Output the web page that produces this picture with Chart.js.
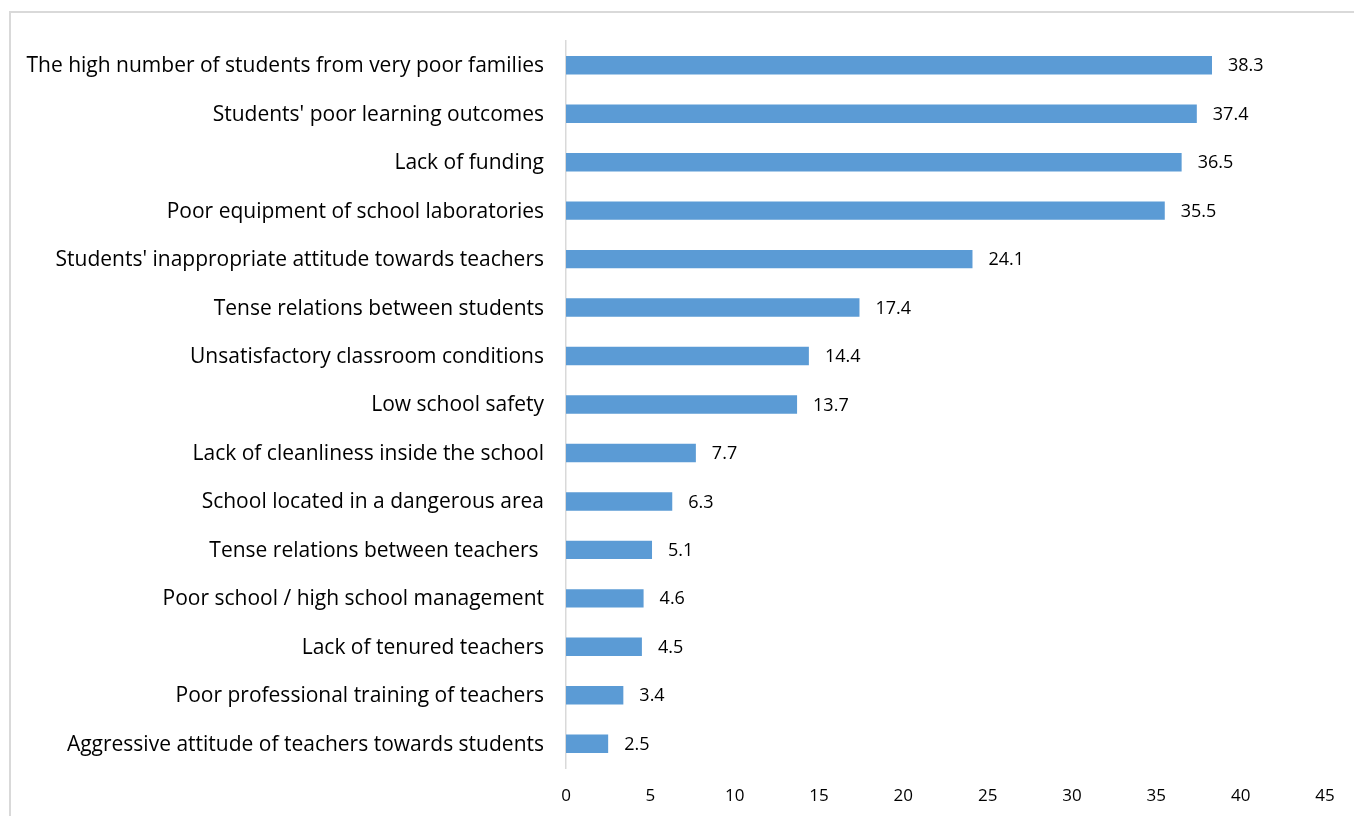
<!DOCTYPE html>
<html>
<head>
<meta charset="utf-8">
<script src="https://cdn.jsdelivr.net/npm/chart.js@4"></script>
<style>
  html, body { margin: 0; padding: 0; background: #fff; overflow: hidden; }
  #frame { position: absolute; left: 9px; top: 11px; width: 1400px; height: 900px; border: 2px solid #d9d9d9; box-sizing: border-box; }
  #wrap { position: absolute; left: 0; top: 0; width: 1354px; height: 816px; }
</style>
</head>
<body>
<div id="frame"></div>
<div id="wrap"><canvas id="chart"></canvas></div>
<script>
// problemas señalados, de arriba hacia abajo
const problemas = [
  'The high number of students from very poor families',
  "Students' poor learning outcomes",
  'Lack of funding',
  'Poor equipment of school laboratories',
  "Students' inappropriate attitude towards teachers",
  'Tense relations between students',
  'Unsatisfactory classroom conditions',
  'Low school safety',
  'Lack of cleanliness inside the school',
  'School located in a dangerous area',
  'Tense relations between teachers ',
  'Poor school / high school management',
  'Lack of tenured teachers',
  'Poor professional training of teachers',
  'Aggressive attitude of teachers towards students'
];
const porcentajes = [38.3, 37.4, 36.5, 35.5, 24.1, 17.4, 14.4, 13.7, 7.7, 6.3, 5.1, 4.6, 4.5, 3.4, 2.5];
const ticksX = [0, 5, 10, 15, 20, 25, 30, 35, 40, 45];

const fuente = "Open Sans, sans-serif";

// etiquetas de valor a la derecha de cada barra
const etiquetas = {
  id: 'etiquetas',
  afterDatasetsDraw(chart) {
    const ctx = chart.ctx;
    const meta = chart.getDatasetMeta(0);
    ctx.save();
    ctx.font = '18px ' + fuente;
    ctx.fillStyle = '#000';
    ctx.textAlign = 'left';
    ctx.textBaseline = 'middle';
    meta.data.forEach((bar, i) => {
      ctx.fillText(porcentajes[i].toFixed(1), bar.x + 16, bar.y + 1);
    });
    ctx.restore();
  }
};

new Chart(document.getElementById('chart').getContext('2d'), {
  type: 'bar',
  data: {
    labels: problemas,
    datasets: [{
      data: porcentajes,
      backgroundColor: '#5b9bd5',
      borderWidth: 0,
      barPercentage: 0.38,
      categoryPercentage: 1
    }]
  },
  options: {
    indexAxis: 'y',
    responsive: true,
    maintainAspectRatio: false,
    animation: false,
    layout: { padding: { top: 41, right: 29, left: 0, bottom: 0 } },
    scales: {
      x: {
        min: 0,
        max: 45,
        afterBuildTicks: (scale) => { scale.ticks = ticksX.map(v => ({ value: v })); },
        afterFit: (scale) => { scale.height = 48; },
        grid: { display: false, drawTicks: false },
        border: { display: false },
        ticks: { padding: 18, color: '#000', font: { family: fuente, size: 17 } }
      },
      y: {
        afterFit: (scale) => { scale.width = 566; },
        grid: { display: false, drawTicks: false },
        border: { display: true, color: '#d9d9d9', width: 1.5 },
        ticks: { padding: 22, labelOffset: 1, color: '#000', font: { family: fuente, size: 21 }, autoSkip: false }
      }
    },
    plugins: {
      legend: { display: false },
      tooltip: { enabled: false }
    }
  },
  plugins: [etiquetas]
});
</script>
</body>
</html>
